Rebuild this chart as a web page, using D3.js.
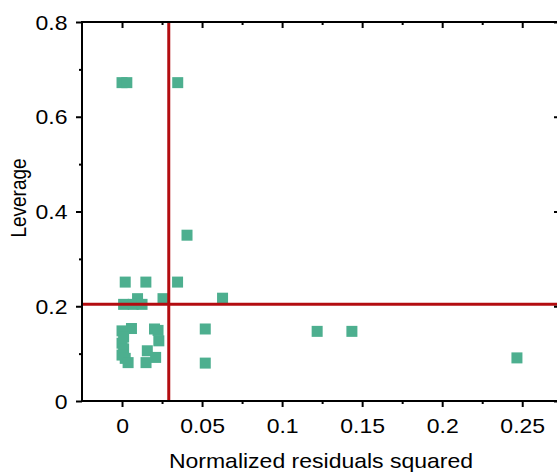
<!DOCTYPE html>
<html>
<head>
<meta charset="utf-8">
<script src="https://cdn.jsdelivr.net/npm/d3@7/dist/d3.min.js"></script>
<style>
  html, body { margin: 0; padding: 0; background: #fff; }
  svg { display: block; }
  text { font-family: "Liberation Sans", Arial, sans-serif; fill: #000; }
</style>
</head>
<body>
<svg id="chart" width="557" height="472"></svg>
<script>
// ---- data ----
const residualsSq = [0.000, 0.003, 0.0348, 0.0406, 0.002, 0.0149, 0.0347, 0.0097, 0.0256, 0.0628,
  0.001, 0.007, 0.0125, 0.0059, 0.000, 0.001, 0.000, 0.001, 0.000, 0.002, 0.0038,
  0.0203, 0.0225, 0.023, 0.0158, 0.021, 0.015, 0.052, 0.052, 0.1219, 0.1436, 0.2467];
const leverage = [0.672, 0.672, 0.672, 0.350, 0.251, 0.251, 0.251, 0.216, 0.216, 0.217,
  0.204, 0.204, 0.204, 0.153, 0.148, 0.135, 0.122, 0.110, 0.097, 0.090, 0.081,
  0.152, 0.149, 0.127, 0.106, 0.092, 0.081, 0.152, 0.080, 0.147, 0.147, 0.091];
const xMajorTicks = [0, 0.05, 0.1, 0.15, 0.2, 0.25];
const xMinorTicks = [0.025, 0.075, 0.125, 0.175, 0.225];
const yMajorTicks = [0, 0.2, 0.4, 0.6, 0.8];
const yMinorTicks = [0.1, 0.3, 0.5, 0.7];
const criticalResidual = 0.0292;
const criticalLeverage = 0.2041;
const xTitle = "Normalized residuals squared";
const yTitle = "Leverage";

// ---- layout ----
const svg = d3.select("#chart");
const pL = 82, pR = 560, pT = 22, pB = 401;
const x = d3.scaleLinear().domain([-0.025, 0.2736]).range([pL, pR]);
const y = d3.scaleLinear().domain([0, 0.8]).range([pB, pT]);
const fmt = d3.format("~g");
const sx = 1.15;

const points = residualsSq.map((d, i) => ({x: d, y: leverage[i]}));
const sq = 11;
svg.append("g").selectAll("rect").data(points).join("rect")
  .attr("x", d => x(d.x) - sq / 2)
  .attr("y", d => y(d.y) - sq / 2)
  .attr("width", sq).attr("height", sq)
  .attr("fill", "#4daf8f");

// critical lines
svg.append("line")
  .attr("x1", x(criticalResidual)).attr("x2", x(criticalResidual))
  .attr("y1", pT).attr("y2", pB)
  .attr("stroke", "#b30c10").attr("stroke-width", 3);
svg.append("line")
  .attr("x1", pL).attr("x2", pR)
  .attr("y1", y(criticalLeverage)).attr("y2", y(criticalLeverage))
  .attr("stroke", "#b30c10").attr("stroke-width", 3);

function styleAxis(g) {
  g.select(".domain").remove();
  g.selectAll(".tick line").attr("stroke", "#000").attr("stroke-width", 2);
}

// bottom axis
const gB = svg.append("g").attr("transform", `translate(0,${pB})`)
  .call(d3.axisBottom(x).tickValues(xMajorTicks).tickSize(6).tickPadding(0).tickFormat(fmt));
styleAxis(gB);
gB.selectAll(".tick text").attr("font-size", 20).attr("dy", null).attr("y", 32)
  .attr("transform", `scale(${sx},1)`);
const gBm = svg.append("g").attr("transform", `translate(0,${pB})`)
  .call(d3.axisBottom(x).tickValues(xMinorTicks).tickSize(3).tickFormat(""));
styleAxis(gBm);

// top axis (ticks inward)
const gT = svg.append("g").attr("transform", `translate(0,${pT})`)
  .call(d3.axisBottom(x).tickValues(xMajorTicks).tickSize(6).tickFormat(""));
styleAxis(gT);
const gTm = svg.append("g").attr("transform", `translate(0,${pT})`)
  .call(d3.axisBottom(x).tickValues(xMinorTicks).tickSize(3).tickFormat(""));
styleAxis(gTm);

// left axis
const gL = svg.append("g").attr("transform", `translate(${pL},0)`)
  .call(d3.axisLeft(y).tickValues(yMajorTicks).tickSize(6).tickFormat(fmt));
styleAxis(gL);
gL.selectAll(".tick text").attr("font-size", 20).attr("dy", null).attr("y", 7)
  .attr("x", -14.5 / sx).attr("transform", `scale(${sx},1)`);
const gLm = svg.append("g").attr("transform", `translate(${pL},0)`)
  .call(d3.axisLeft(y).tickValues(yMinorTicks).tickSize(3).tickFormat(""));
styleAxis(gLm);

// right axis (ticks inward)
const gR = svg.append("g").attr("transform", `translate(${pR},0)`)
  .call(d3.axisLeft(y).tickValues(yMajorTicks).tickSize(6).tickFormat(""));
styleAxis(gR);

// frame
svg.append("rect").attr("x", pL).attr("y", pT)
  .attr("width", pR - pL).attr("height", pB - pT)
  .attr("fill", "none").attr("stroke", "#000").attr("stroke-width", 2);

// titles
svg.append("text")
  .attr("transform", `translate(${(pL + pR) / 2},467.5) scale(${sx},1)`)
  .attr("text-anchor", "middle").attr("font-size", 20).text(xTitle);
svg.append("text")
  .attr("transform", `translate(26,198) rotate(-90) scale(1,${sx})`)
  .attr("text-anchor", "middle").attr("font-size", 19).text(yTitle);
</script>
</body>
</html>
